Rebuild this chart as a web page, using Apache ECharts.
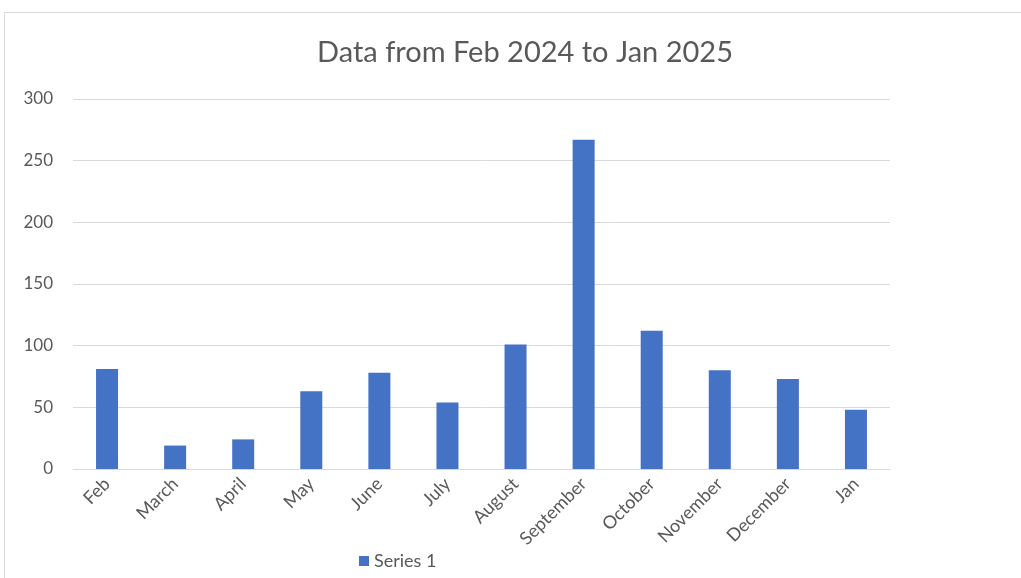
<!DOCTYPE html>
<html>
<head>
<meta charset="utf-8">
<script src="https://cdn.jsdelivr.net/npm/echarts@6/dist/echarts.min.js"></script>
<style>
  html, body { margin: 0; padding: 0; background: #ffffff; }
  #chart { width: 1021px; height: 578px; }
</style>
</head>
<body>
<div id="chart"></div>
<script>
// Monthly values, Feb 2024 through Jan 2025
const months = ['Feb', 'March', 'April', 'May', 'June', 'July', 'August',
                'September', 'October', 'November', 'December', 'Jan'];
const series1 = [81, 19, 24, 63, 78, 54, 101, 267, 112, 80, 73, 48];
const yTicks = [0, 50, 100, 150, 200, 250, 300];

const FONT = 'Lato, "Open Sans", sans-serif';
const TEXT = '#595959';

const chart = echarts.init(document.getElementById('chart'), null, { renderer: 'canvas' });
chart.setOption({
  backgroundColor: '#ffffff',
  animation: false,
  title: {
    text: 'Data from Feb 2024 to Jan 2025',
    left: 312,
    top: 33,
    textStyle: { fontFamily: FONT, fontSize: 29, fontWeight: 'normal', color: TEXT }
  },
  graphic: [{
    type: 'rect',
    shape: { x: 4.5, y: 12.5, width: 1100, height: 700 },
    style: { fill: 'none', stroke: '#d9d9d9', lineWidth: 1 },
    silent: true
  }],
  legend: {
    data: ['Series 1'],
    left: 354,
    top: 547,
    itemWidth: 10,
    itemHeight: 10,
    itemGap: 8,
    icon: 'rect',
    textStyle: { fontFamily: FONT, fontSize: 18, color: TEXT }
  },
  grid: { left: 73, right: 131, top: 99, bottom: 109, containLabel: false },
  xAxis: {
    type: 'category',
    data: months,
    axisLine: { lineStyle: { color: '#d9d9d9', width: 1 } },
    axisTick: { show: false },
    axisLabel: {
      rotate: 45,
      margin: 12,
      fontFamily: FONT,
      fontSize: 18,
      color: TEXT,
      interval: 0
    }
  },
  yAxis: {
    type: 'value',
    min: yTicks[0],
    max: yTicks[yTicks.length - 1],
    interval: yTicks[1] - yTicks[0],
    axisLine: { show: false },
    axisTick: { show: false },
    splitLine: { lineStyle: { color: '#d9d9d9', width: 1 } },
    axisLabel: { margin: 20, fontFamily: FONT, fontSize: 17, color: TEXT }
  },
  series: [{
    name: 'Series 1',
    type: 'bar',
    data: series1,
    barWidth: 22,
    itemStyle: { color: '#4472c4' }
  }]
});
</script>
</body>
</html>
